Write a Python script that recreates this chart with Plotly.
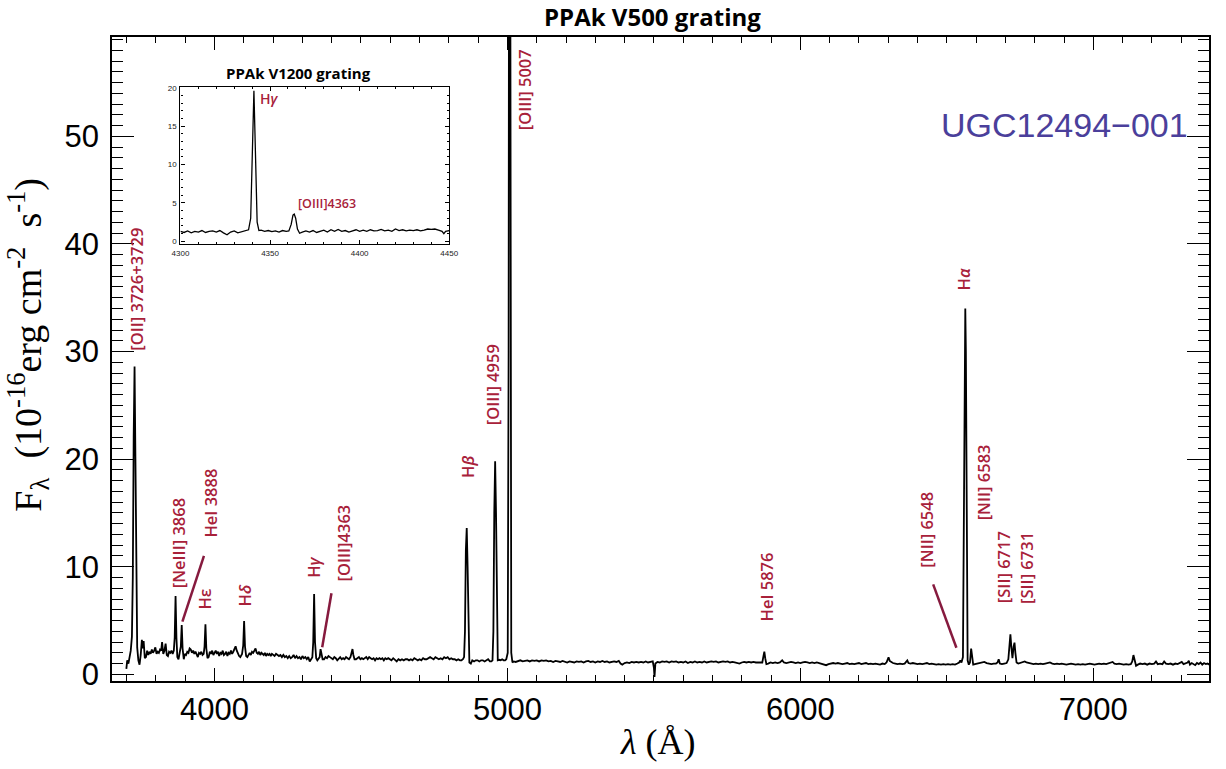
import plotly.graph_objects as go

# ---------------- data ----------------
SPEC_WAVE = [
    3699, 3702, 3706, 3710, 3714, 3718, 3721, 3724, 3727, 3730, 3733, 3736, 3740, 3744, 3748, 3752,
    3755, 3758, 3762, 3766, 3770, 3774, 3778, 3782, 3786, 3790, 3794, 3798, 3802, 3806, 3810, 3814,
    3818, 3821, 3825, 3829, 3833, 3837, 3841, 3845, 3849, 3853, 3857, 3861, 3864, 3867, 3870, 3873,
    3877, 3881, 3885, 3888, 3891, 3895, 3899, 3903, 3907, 3911, 3915, 3919, 3923, 3927, 3931, 3935,
    3939, 3943, 3947, 3951, 3955, 3959, 3963, 3966, 3969, 3972, 3976, 3980, 3984, 3988, 3992, 3996,
    4000, 4004, 4008, 4012, 4016, 4020, 4024, 4028, 4032, 4036, 4040, 4044, 4048, 4052, 4056, 4060,
    4064, 4068, 4072, 4076, 4080, 4084, 4088, 4094, 4098, 4101, 4104, 4108, 4112, 4116, 4120, 4124,
    4128, 4132, 4136, 4140, 4144, 4148, 4152, 4156, 4160, 4164, 4168, 4172, 4176, 4180, 4184, 4188,
    4192, 4196, 4200, 4205, 4210, 4215, 4220, 4225, 4230, 4235, 4240, 4245, 4250, 4255, 4260, 4265,
    4270, 4275, 4280, 4285, 4290, 4295, 4300, 4305, 4310, 4315, 4320, 4325, 4330, 4334, 4337, 4340,
    4343, 4347, 4351, 4355, 4359, 4362, 4365, 4369, 4374, 4379, 4384, 4389, 4394, 4399, 4404, 4409,
    4414, 4419, 4424, 4429, 4434, 4439, 4444, 4449, 4454, 4459, 4464, 4468, 4471, 4474, 4478, 4483,
    4488, 4493, 4498, 4503, 4508, 4513, 4518, 4523, 4528, 4533, 4538, 4543, 4548, 4553, 4558, 4563,
    4568, 4573, 4578, 4583, 4588, 4593, 4598, 4604, 4610, 4616, 4622, 4628, 4634, 4640, 4646, 4652,
    4658, 4664, 4670, 4676, 4682, 4688, 4694, 4700, 4706, 4712, 4718, 4724, 4730, 4736, 4742, 4748,
    4754, 4760, 4766, 4772, 4778, 4784, 4790, 4796, 4802, 4808, 4814, 4820, 4826, 4832, 4838, 4843,
    4848, 4852, 4855, 4858, 4861, 4864, 4867, 4870, 4875, 4880, 4886, 4892, 4898, 4904, 4910, 4916,
    4922, 4928, 4934, 4940, 4945, 4949, 4952, 4955, 4958, 4961, 4964, 4967, 4972, 4977, 4982, 4987,
    4992, 4996, 5001, 5004, 5007, 5010, 5013, 5017, 5021, 5028, 5036, 5044, 5052, 5060, 5068, 5076,
    5084, 5092, 5100, 5108, 5116, 5124, 5132, 5140, 5148, 5156, 5164, 5172, 5180, 5188, 5196, 5204,
    5212, 5220, 5228, 5236, 5244, 5252, 5260, 5268, 5276, 5284, 5292, 5300, 5308, 5316, 5324, 5332,
    5340, 5348, 5356, 5364, 5372, 5380, 5386, 5392, 5400, 5408, 5416, 5424, 5432, 5440, 5448, 5456,
    5464, 5472, 5480, 5488, 5496, 5500, 5502, 5505, 5512, 5520, 5528, 5536, 5544, 5552, 5560, 5568,
    5576, 5584, 5592, 5600, 5608, 5616, 5624, 5632, 5640, 5648, 5656, 5664, 5672, 5680, 5688, 5696,
    5704, 5712, 5720, 5728, 5736, 5744, 5752, 5760, 5768, 5776, 5784, 5792, 5800, 5808, 5816, 5824,
    5832, 5840, 5848, 5856, 5864, 5870, 5874, 5877, 5880, 5884, 5890, 5898, 5906, 5914, 5922, 5930,
    5938, 5944, 5952, 5960, 5968, 5976, 5984, 5992, 6000, 6008, 6016, 6024, 6032, 6040, 6048, 6056,
    6064, 6072, 6080, 6088, 6096, 6104, 6112, 6120, 6128, 6136, 6144, 6152, 6160, 6168, 6176, 6184,
    6192, 6200, 6208, 6216, 6224, 6232, 6240, 6248, 6256, 6264, 6272, 6280, 6288, 6294, 6298, 6301,
    6305, 6310, 6316, 6324, 6332, 6340, 6348, 6356, 6362, 6365, 6369, 6376, 6384, 6392, 6400, 6408,
    6416, 6424, 6432, 6440, 6448, 6456, 6464, 6472, 6480, 6488, 6496, 6504, 6512, 6520, 6528, 6536,
    6542, 6546, 6550, 6555, 6558, 6561, 6563, 6565, 6568, 6571, 6575, 6579, 6583, 6586, 6590, 6596,
    6604, 6612, 6620, 6628, 6636, 6644, 6652, 6660, 6668, 6673, 6677, 6681, 6688, 6696, 6704, 6710,
    6714, 6717, 6720, 6724, 6728, 6731, 6734, 6738, 6744, 6752, 6760, 6766, 6772, 6780, 6788, 6796,
    6804, 6812, 6820, 6828, 6836, 6844, 6852, 6860, 6868, 6876, 6884, 6892, 6900, 6908, 6916, 6924,
    6932, 6940, 6948, 6956, 6964, 6972, 6980, 6988, 6996, 7004, 7012, 7020, 7028, 7036, 7044, 7052,
    7060, 7066, 7072, 7080, 7088, 7096, 7104, 7112, 7120, 7128, 7133, 7137, 7141, 7146, 7152, 7160,
    7168, 7176, 7184, 7192, 7200, 7208, 7214, 7220, 7228, 7236, 7242, 7248, 7256, 7264, 7272, 7280,
    7288, 7296, 7302, 7308, 7316, 7322, 7326, 7330, 7336, 7342, 7348, 7354, 7360, 7366, 7372, 7378,
    7384, 7390, 7396, 7402,
]
SPEC_FLUX = [
    0.5, 1.3, 1.0, 1.6, 2.2, 3.5, 9.0, 22.0, 28.6, 20.0, 8.0, 2.5, 1.3, 0.9, 1.8, 3.2,
    2.4, 3.1, 1.5, 1.6, 2.2, 1.8, 2.1, 1.9, 2.3, 2.0, 2.2, 2.5, 1.9, 2.1, 2.0, 2.3,
    2.2, 3.0, 1.9, 2.2, 2.85, 1.8, 1.7, 2.1, 2.0, 2.2, 1.9, 2.2, 3.4, 7.27, 3.4, 1.6,
    1.4, 2.0, 2.6, 4.58, 2.4, 1.4, 1.9, 1.8, 2.1, 2.0, 2.4, 2.3, 2.0, 2.2, 1.9, 2.1,
    1.8, 1.6, 2.0, 1.9, 2.1, 1.8, 1.9, 2.6, 4.65, 2.4, 1.5, 1.6, 2.1, 1.9, 2.2, 1.8,
    2.0, 2.2, 1.9, 2.1, 1.7, 2.0, 1.9, 2.2, 1.8, 1.9, 2.1, 1.7, 2.0, 1.9, 2.2, 1.9,
    2.1, 2.3, 2.6, 2.2, 1.9, 1.7, 1.6, 1.9, 2.7, 4.95, 2.6, 1.7, 1.6, 1.9, 2.0, 1.8,
    2.1, 2.0, 2.3, 2.4, 2.0, 1.9, 2.1, 1.8, 2.0, 1.9, 1.8, 2.0, 1.7, 1.9, 1.8, 1.9,
    1.7, 1.9, 1.8, 1.7, 1.9, 1.8, 1.7, 1.8, 1.6, 1.8, 1.6, 1.7, 1.5, 1.7, 1.5, 1.6,
    1.8, 1.5, 1.7, 1.5, 1.6, 1.4, 1.7, 1.5, 1.6, 1.4, 1.6, 1.2, 1.5, 1.6, 3.0, 7.46,
    3.0, 1.5, 1.3, 1.5, 1.6, 2.34, 1.9, 1.4, 1.4, 1.6, 1.5, 1.7, 1.6, 1.5, 1.4, 1.6,
    1.5, 1.3, 1.5, 1.6, 1.4, 1.5, 1.4, 1.6, 1.5, 1.4, 1.6, 2.0, 2.35, 1.8, 1.4, 1.4,
    1.5, 1.6, 1.4, 1.5, 1.4, 1.5, 1.6, 1.4, 1.6, 1.5, 1.4, 1.5, 1.3, 1.5, 1.4, 1.5,
    1.4, 1.5, 1.3, 1.5, 1.4, 1.5, 1.4, 1.3, 1.5, 1.3, 1.2, 1.4, 1.3, 1.4, 1.3, 1.4,
    1.4, 1.3, 1.4, 1.3, 1.5, 1.4, 1.3, 1.4, 1.3, 1.5, 1.4, 1.4, 1.5, 1.6, 1.5, 1.4,
    1.6, 1.5, 1.4, 1.5, 1.4, 1.6, 1.5, 1.6, 1.4, 1.5, 1.4, 1.4, 1.3, 1.4, 1.3, 1.3,
    1.4, 1.6, 4.0, 11.5, 13.6, 10.0, 3.0, 1.1, 1.0, 1.3, 1.2, 1.3, 1.3, 1.2, 1.3, 1.3,
    1.2, 1.3, 1.4, 1.2, 1.2, 1.3, 4.0, 15.0, 19.8, 15.0, 4.0, 1.3, 1.35, 1.3, 1.4, 1.3,
    1.3, 1.4, 2.0, 30.0, 120.0, 30.0, 2.0, 1.1, 1.2, 1.15, 1.25, 1.3, 1.2, 1.25, 1.3, 1.2,
    1.3, 1.25, 1.3, 1.2, 1.3, 1.25, 1.3, 1.2, 1.25, 1.15, 1.25, 1.2, 1.15, 1.25, 1.2, 1.1,
    1.2, 1.15, 1.1, 1.2, 1.15, 1.2, 1.1, 1.2, 1.25, 1.15, 1.2, 1.1, 1.2, 1.15, 1.25, 1.15,
    1.2, 1.1, 1.15, 1.2, 1.15, 1.25, 1.0, 0.9, 1.05, 1.1, 1.05, 1.15, 1.1, 1.15, 1.1, 1.15,
    1.1, 1.2, 1.1, 1.15, 1.2, 0.6, -0.25, 1.0, 1.15, 1.1, 1.2, 1.15, 1.2, 1.1, 1.2, 1.15,
    1.2, 1.1, 1.15, 1.1, 1.2, 1.05, 1.15, 1.1, 1.2, 1.1, 1.15, 1.1, 1.2, 1.1, 1.15, 1.2,
    1.15, 1.2, 1.1, 1.15, 1.2, 1.15, 1.2, 1.1, 1.15, 1.1, 1.05, 1.0, 1.1, 1.15, 1.1, 1.15,
    1.1, 1.15, 1.1, 1.1, 1.05, 1.1, 1.7, 2.1, 1.5, 0.95, 1.0, 1.1, 1.05, 1.1, 1.05, 1.1,
    1.3, 1.1, 1.05, 1.1, 1.15, 1.1, 1.05, 1.1, 1.05, 1.1, 1.15, 1.1, 1.05, 1.1, 1.05, 1.1,
    1.05, 1.0, 0.95, 0.85, 0.95, 1.0, 1.05, 1.0, 1.05, 1.0, 0.95, 1.0, 1.05, 0.95, 1.0, 0.95,
    1.0, 1.05, 0.95, 1.0, 1.05, 0.95, 1.0, 0.95, 1.0, 0.95, 0.9, 1.0, 0.95, 1.1, 1.5, 1.58,
    1.25, 1.15, 1.05, 1.0, 0.95, 1.0, 0.95, 1.0, 1.2, 1.3, 1.05, 1.0, 1.05, 1.0, 0.95, 1.0,
    0.95, 1.0, 1.05, 0.95, 1.0, 0.95, 0.9, 0.95, 0.9, 0.95, 0.9, 0.95, 0.9, 0.95, 0.9, 1.0,
    1.1, 1.3, 1.1, 1.6, 12.0, 30.0, 34.0, 30.0, 10.0, 1.3, 0.9, 1.1, 2.4, 1.5, 0.9, 0.95,
    1.0, 1.05, 1.1, 1.15, 1.05, 1.0, 0.95, 1.0, 1.0, 1.1, 1.4, 1.0, 0.95, 1.0, 1.05, 1.4,
    3.0, 3.72, 2.6, 1.5, 2.6, 2.94, 2.0, 1.1, 1.0, 1.05, 1.15, 1.2, 1.1, 1.05, 1.0, 0.95,
    1.0, 0.95, 1.0, 0.95, 1.0, 1.05, 1.1, 1.0, 0.95, 1.0, 0.95, 1.0, 0.95, 0.9, 0.95, 1.0,
    0.95, 0.9, 0.95, 0.9, 0.95, 0.9, 0.95, 1.0, 0.95, 0.9, 0.95, 1.0, 0.95, 1.0, 0.95, 1.0,
    1.05, 1.15, 1.0, 0.95, 1.0, 0.95, 0.9, 0.95, 0.9, 0.95, 1.2, 1.79, 1.2, 0.8, 0.9, 1.0,
    0.95, 1.0, 0.9, 1.0, 0.95, 1.0, 1.2, 0.95, 1.0, 0.95, 1.2, 1.0, 0.95, 1.0, 0.9, 1.0,
    0.95, 1.05, 1.15, 0.95, 1.0, 1.1, 1.25, 0.9, 1.05, 0.95, 0.85, 1.05, 0.95, 1.1, 0.9, 1.05,
    0.95, 1.0, 0.9, 1.0,
]

INSET_WAVE = [
    4300, 4302, 4304, 4306, 4308, 4310, 4312, 4314, 4316, 4318, 4320, 4322, 4324, 4326, 4328, 4330,
    4332, 4334, 4336, 4338, 4339.2, 4340.2, 4341.0, 4341.8, 4342.8, 4343.8, 4345, 4347, 4349, 4351,
    4353, 4355, 4357, 4359, 4360.5, 4361.8, 4362.8, 4363.5, 4364.3, 4365.3, 4366.5, 4368, 4370, 4372,
    4374, 4376, 4378, 4380, 4382, 4384, 4386, 4388, 4390, 4392, 4394, 4396, 4398, 4400, 4402, 4404,
    4406, 4408, 4410, 4412, 4414, 4416, 4418, 4420, 4422, 4424, 4426, 4428, 4430, 4432, 4434, 4436,
    4438, 4440, 4442, 4444, 4446, 4447, 4448, 4450,
]
INSET_FLUX = [
    1.3, 1.15, 1.35, 1.1, 1.3, 1.2, 1.4, 1.15, 1.3, 1.35, 1.2, 1.4, 1.1, 0.85, 1.2, 1.35,
    1.1, 1.25, 1.3, 1.5, 3.0, 12.0, 19.6, 12.0, 2.5, 1.4, 1.45, 1.3, 1.4, 1.25,
    1.35, 1.2, 1.4, 1.3, 1.35, 2.2, 3.4, 3.55, 3.0, 1.6, 1.05, 1.2, 1.35, 1.2,
    1.4, 1.15, 1.3, 1.45, 1.2, 1.5, 1.3, 1.55, 1.3, 1.4, 1.2, 1.35, 1.5, 1.3, 1.45, 1.3,
    1.5, 1.35, 1.4, 1.55, 1.35, 1.45, 1.3, 1.6, 1.4, 1.5, 1.35, 1.45, 1.4, 1.5, 1.35, 1.45,
    1.6, 1.55, 1.6, 1.45, 1.3, 1.0, 1.3, 1.4,
]

LINE_TEXT = [
    "[OII] 3726+3729", "[NeIII] 3868", "HeI 3888", "Hε", "H<i>δ</i>", "H<i>γ</i>",
    "[OIII]4363", "H<i>β</i>", "[OIII] 4959", "[OIII] 5007", "HeI 5876", "[NII] 6548",
    "H<i>α</i>", "[NII] 6583", "[SII] 6717", "[SII] 6731",
]
# bottom-centre anchor of each rotated label, in data units (wavelength, flux)
LINE_LABEL_X = [3732.7, 3876, 3988, 3967.5, 4102, 4337, 4438.5, 4862, 4950, 5059, 5886,
                6427.7, 6556.6, 6624.4, 6692.2, 6770]
LINE_LABEL_Y = [29.86, 7.83, 12.48, 5.79, 6.16, 8.76, 8.49, 18.06, 23.0, 50.4, 4.77,
                9.69, 35.53, 14.15, 6.44, 6.35]
# leader lines (x0, y0, x1, y1)
LEADERS = [
    (3890.3, 4.89, 3963.9, 11.0),
    (4367.6, 2.51, 4399.2, 7.53),
    (6453.4, 8.36, 6532.7, 2.47),
]

RED = "#A8213A"
LEADER = "#861A3E"
LABEL_FONT = dict(family="Open Sans", size=16.5, color=RED, weight=600)

fig = go.Figure()
fig.add_trace(go.Scatter(x=SPEC_WAVE, y=SPEC_FLUX, mode="lines",
                         line=dict(color="black", width=1.8), xaxis="x", yaxis="y",
                         hoverinfo="skip", showlegend=False))
fig.add_trace(go.Scatter(x=INSET_WAVE, y=INSET_FLUX, mode="lines",
                         line=dict(color="black", width=1.3), xaxis="x2", yaxis="y2",
                         hoverinfo="skip", showlegend=False))

annotations = []
for t, x, y in zip(LINE_TEXT, LINE_LABEL_X, LINE_LABEL_Y):
    annotations.append(dict(text=t, x=x, y=y, xref="x", yref="y", showarrow=False,
                            textangle=-90, xanchor="center", yanchor="bottom",
                            font=LABEL_FONT))

# inset labels
annotations.append(dict(text="H<i>γ</i>", x=4343.0, y=18.6, xref="x2", yref="y2",
                        showarrow=False, xanchor="left", yanchor="middle",
                        font=dict(family="Open Sans", size=14, color=RED, weight=600)))
annotations.append(dict(text="[OIII]4363", x=4364.5, y=4.9, xref="x2", yref="y2",
                        showarrow=False, xanchor="left", yanchor="middle",
                        font=dict(family="Open Sans", size=12.5, color=RED, weight=600)))

# titles
annotations.append(dict(text="PPAk V500 grating", x=0.4928, y=1.0318, xref="paper", yref="paper",
                        showarrow=False, xanchor="center", yanchor="middle",
                        font=dict(family="Open Sans", size=24, color="black", weight=700)))
annotations.append(dict(text="PPAk V1200 grating", x=0.1704, y=0.9441, xref="paper", yref="paper",
                        showarrow=False, xanchor="center", yanchor="middle",
                        font=dict(family="Open Sans", size=15, color="black", weight=700)))
annotations.append(dict(text="UGC12494−001", x=0.9824, y=0.8641, xref="paper", yref="paper",
                        showarrow=False, xanchor="right", yanchor="middle",
                        font=dict(family="Liberation Sans", size=34, color="#4B3F9B")))
# axis titles
annotations.append(dict(text="F<sub>λ</sub>  (10<sup>-16</sup>erg cm<sup>-2</sup>  s<sup>-1</sup>)",
                        x=-0.0769, y=0.5217, xref="paper", yref="paper", showarrow=False,
                        textangle=-90, xanchor="center", yanchor="middle",
                        font=dict(family="Liberation Serif", size=38, color="black")))
annotations.append(dict(text="<i>λ</i> (Å)", x=0.4973, y=-0.0947, xref="paper", yref="paper",
                        showarrow=False, xanchor="center", yanchor="middle",
                        font=dict(family="Liberation Serif", size=36, color="black")))

shapes = [dict(type="line", x0=a, y0=b, x1=c, y1=d, xref="x", yref="y",
               line=dict(color=LEADER, width=2.5)) for a, b, c, d in LEADERS]

tickfont_main = dict(family="Liberation Sans", size=31, color="black")
tickfont_inset = dict(family="Liberation Sans", size=8, color="#222")

fig.update_layout(
    width=1226, height=769, autosize=False,
    margin=dict(l=112, r=8, t=37, b=88),
    paper_bgcolor="white", plot_bgcolor="white",
    showlegend=False,
    annotations=annotations,
    shapes=shapes,
    xaxis=dict(range=[3650, 7395], showgrid=False, zeroline=False,
               showline=True, linecolor="black", linewidth=1.5, mirror="ticks",
               ticks="inside", ticklen=13, tickwidth=1.4, tickcolor="black",
               tick0=0, dtick=1000, tickfont=tickfont_main, ticklabelstandoff=0,
               minor=dict(ticks="inside", dtick=100, ticklen=6, tickwidth=1.2,
                          tickcolor="black", showgrid=False)),
    yaxis=dict(range=[-0.62, 59.23], showgrid=False, zeroline=False,
               showline=True, linecolor="black", linewidth=1.5, mirror="ticks",
               ticks="inside", ticklen=22, tickwidth=1.4, tickcolor="black",
               tick0=0, dtick=10, tickfont=tickfont_main, ticklabelstandoff=5,
               minor=dict(ticks="inside", dtick=1, ticklen=11, tickwidth=1.2,
                          tickcolor="black", showgrid=False)),
    xaxis2=dict(domain=[0.0624, 0.3074], anchor="y2", range=[4300, 4450],
                showgrid=False, zeroline=False, showline=True, linecolor="black",
                linewidth=1.2, mirror="ticks", ticks="inside", ticklen=4, tickwidth=1,
                tickcolor="black", tick0=4300, dtick=50, tickfont=tickfont_inset,
                ticklabelstandoff=1,
                minor=dict(ticks="inside", dtick=10, ticklen=2, tickwidth=1,
                           tickcolor="black", showgrid=False)),
    yaxis2=dict(domain=[0.6786, 0.9224], anchor="x2", range=[-0.35, 20.1],
                showgrid=False, zeroline=False, showline=True, linecolor="black",
                linewidth=1.2, mirror="ticks", ticks="inside", ticklen=4, tickwidth=1,
                tickcolor="black", tick0=0, dtick=5, tickfont=tickfont_inset,
                ticklabelstandoff=1,
                minor=dict(ticks="inside", dtick=1, ticklen=2, tickwidth=1,
                           tickcolor="black", showgrid=False)),
)

fig.write_html(
    "out.html",
    config={"displayModeBar": False, "responsive": False},
    post_script="document.body.style.margin='0';document.body.style.overflow='hidden';",
)
